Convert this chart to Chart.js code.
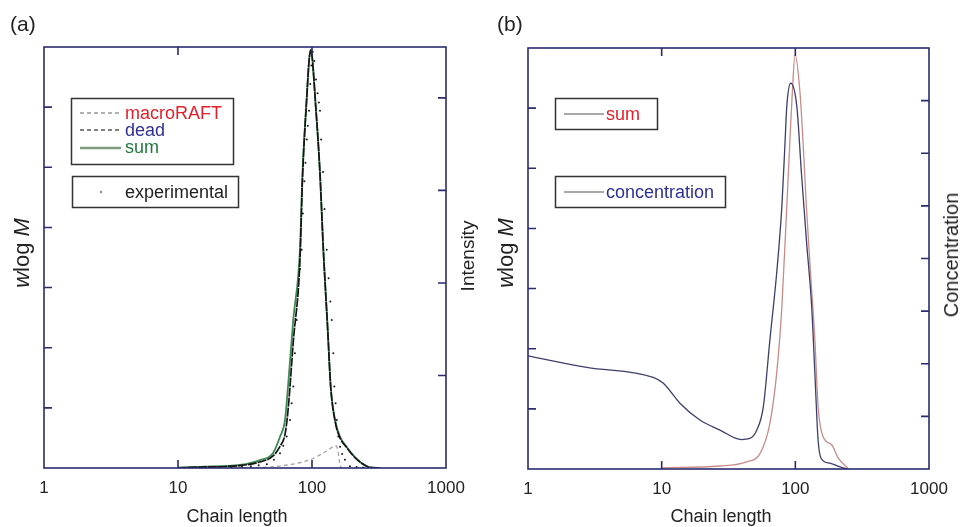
<!DOCTYPE html>
<html>
<head>
<meta charset="utf-8">
<script src="https://cdn.jsdelivr.net/npm/chart.js@4.4.1/dist/chart.umd.min.js"></script>
<style>
  body { margin: 0; background: #fff; }
  #wrap { position: relative; width: 961px; height: 527px; overflow: hidden;
          font-family: "Liberation Sans", Arial, sans-serif; color: #222; }
  canvas { position: absolute; top: 0; }
  #chartA { left: 0; }
  #chartB { left: 480px; }
  .lbl { position: absolute; white-space: nowrap; line-height: 1; }
  .rot { transform: translate(-50%, -50%) rotate(-90deg); }
  .ctr { transform: translate(-50%, -50%); }
  #legend { position: absolute; left: 0; top: 0; }
</style>
</head>
<body>
<div id="wrap">
  <canvas id="chartA" width="480" height="527"></canvas>
  <canvas id="chartB" width="481" height="527"></canvas>

  <div class="lbl" style="left:10px;top:13px;font-size:21px">(a)</div>
  <div class="lbl" style="left:497px;top:13px;font-size:21px">(b)</div>
  <div class="lbl rot" style="left:22px;top:253px;font-size:22px"><i>w</i>log <i>M</i></div>
  <div class="lbl rot" style="left:467px;top:256px;font-size:19px">Intensity</div>
  <div class="lbl rot" style="left:506px;top:253px;font-size:22px"><i>w</i>log <i>M</i></div>
  <div class="lbl rot" style="left:951px;top:255px;font-size:20px">Concentration</div>
  <div class="lbl ctr" style="left:237px;top:516px;font-size:18px">Chain length</div>
  <div class="lbl ctr" style="left:721px;top:516px;font-size:18px">Chain length</div>

  <svg id="legend" width="961" height="527" font-family="Liberation Sans, Arial, sans-serif" font-size="18">
    <!-- panel (a) -->
    <rect x="71.5" y="98.5" width="162" height="66" fill="#fff" stroke="#333" stroke-width="1.5"/>
    <line x1="80" y1="113" x2="121" y2="113" stroke="#b0b0b0" stroke-width="2" stroke-dasharray="4,3"/>
    <line x1="80" y1="130" x2="121" y2="130" stroke="#555" stroke-width="1.5" stroke-dasharray="4,3"/>
    <line x1="80" y1="148" x2="121" y2="148" stroke="#7f9c82" stroke-width="2.5"/>
    <text x="125" y="113" dominant-baseline="central" fill="#e3202a">macroRAFT</text>
    <text x="125" y="130" dominant-baseline="central" fill="#2e3192">dead</text>
    <text x="125" y="147" dominant-baseline="central" fill="#1f7a3a">sum</text>
    <rect x="72.5" y="176.5" width="166" height="31" fill="#fff" stroke="#333" stroke-width="1.5"/>
    <circle cx="101" cy="192" r="1.2" fill="#888"/>
    <text x="125" y="192" dominant-baseline="central" fill="#222">experimental</text>
    <!-- panel (b) -->
    <rect x="555.5" y="98.5" width="102" height="31" fill="#fff" stroke="#333" stroke-width="1.5"/>
    <line x1="564" y1="114" x2="604" y2="114" stroke="#a8a8a8" stroke-width="2"/>
    <text x="606" y="114" dominant-baseline="central" fill="#e3202a">sum</text>
    <rect x="555.5" y="176.5" width="170" height="31" fill="#fff" stroke="#333" stroke-width="1.5"/>
    <line x1="564" y1="192" x2="604" y2="192" stroke="#a8a8a8" stroke-width="2"/>
    <text x="606" y="192" dominant-baseline="central" fill="#2e3192">concentration</text>
  </svg>
</div>

<script>
// ***************************************************
// Data
// ***************************************************

var xTickLabels = [1, 10, 100, 1000];

// (a) simulated wlogM curves, left axis
var aSumLength  = [10, 14.6, 29, 40.9, 51.2, 57.7, 62.9, 66.2, 72.5, 81.3, 84.9, 90.2, 97.8, 107.1, 114.7, 121.5, 131, 137.9, 148.6, 161.9, 181.5, 209.4, 234.9, 262, 321];
var aSumValue   = [0.005, 0.02, 0.05, 0.13, 0.25, 0.52, 0.8, 1.35, 2.47, 3.63, 4.9, 5.95, 6.95, 5.95, 4.9, 3.63, 2.3, 1.35, 0.8, 0.52, 0.35, 0.18, 0.08, 0.02, 0];
var aDeadLength = [10, 14.6, 29, 40.9, 51.2, 57.7, 62.9, 66.2, 72.5, 81.3, 84.9, 90.2, 97.8, 107.1, 114.7, 121.5, 131, 137.9, 148.6, 161.9, 181.5, 209.4, 234.9, 262, 321];
var aDeadValue  = [0.004, 0.015, 0.04, 0.1, 0.2, 0.36, 0.56, 0.95, 2.1, 3.45, 4.8, 5.95, 6.95, 5.95, 4.9, 3.63, 2.3, 1.35, 0.78, 0.5, 0.34, 0.17, 0.08, 0.02, 0];
var aRaftLength = [30, 50, 70, 85, 100, 115, 130, 150, 156, 160, 165];
var aRaftValue  = [0, 0.02, 0.06, 0.1, 0.15, 0.22, 0.29, 0.37, 0.3, 0.12, 0];

// (a) experimental points, right axis (intensity)
var aExpLength = [20, 25, 30, 35, 40, 46, 52, 57.7, 61, 64.7, 68.5, 70.5, 72.5, 74.6, 76.9, 79, 81.5, 83.8, 85.5, 87.7, 89.4, 91.5, 93, 95, 97, 99, 101.2,
                  104, 107, 110, 112.5, 114.7, 117, 120.8, 124, 128.7, 133, 137, 140.4, 144.3, 146.7, 150, 152.8, 157.1, 161.9, 168, 176, 192, 215, 240];
var aExpIntensity = [0.01, 0.01, 0.015, 0.02, 0.03, 0.04, 0.09, 0.16, 0.24, 0.34, 0.52, 0.7, 0.88, 1.24, 1.6, 1.9, 2.15, 2.36, 2.75, 3.1, 3.3, 3.55, 3.7, 3.86, 4.15, 4.35, 4.5,
                     4.4, 4.2, 4.05, 3.95, 3.86, 3.55, 3.2, 2.8, 2.36, 2.05, 1.8, 1.6, 1.24, 0.88, 0.7, 0.52, 0.34, 0.23, 0.15, 0.09, 0.02, 0.01, 0.005];

// (b) sum (left axis) and concentration (right axis)
var bSumLength  = [10, 27.3, 43.2, 54.5, 64.5, 72.5, 79.3, 86.3, 91.1, 95.2, 99.5, 107.9, 114, 121, 130, 140, 148, 161, 187.4, 209.5, 248];
var bSumValue   = [0.02, 0.05, 0.12, 0.26, 0.76, 1.59, 2.7, 4.36, 5.47, 6.31, 6.89, 6.31, 5.47, 4.36, 3.25, 2.15, 1.04, 0.54, 0.4, 0.18, 0.01];
var bConcLength = [1, 2.75, 8.65, 10.3, 13.7, 19.3, 27.3, 39.6, 45.7, 51.5, 57.6, 64.5, 72.5, 79.3, 83.9, 86.3, 92.3, 102.6, 111.1, 121, 132.5, 140, 148, 156, 181, 228, 246];
var bConcValue  = [2.15, 1.93, 1.74, 1.63, 1.25, 0.93, 0.74, 0.56, 0.58, 0.74, 1.18, 2.45, 3.72, 4.99, 6.25, 6.89, 7.33, 6.89, 5.62, 4.35, 3.09, 1.82, 0.55, 0.2, 0.11, 0.02, 0];

// axis ranges / tick marks (no labels on the y axes)
var aLeftTicks  = [1, 2, 3, 4, 5, 6];
var aRightTicks = [1, 2, 3, 4];
var bLeftTicks  = [1, 2, 3, 4, 5, 6];
var bRightTicks = [1, 2, 3, 4, 5, 6, 7];

(function() {

  var FONT = '"Liberation Sans", Arial, sans-serif';
  var FRAME = '#2a2c6e';

  // ***************************************************
  // Helpers
  // ***************************************************

  function pts(xs, ys) {
    return xs.map(function(x, i) { return { x: x, y: ys[i] }; });
  }

  // lower "order" is drawn on top
  function line(data, color, width, dash, axis, order) {
    return {
      data: data, yAxisID: axis, borderColor: color, borderWidth: width,
      borderDash: dash || [], pointRadius: 0, fill: false, order: order,
      cubicInterpolationMode: 'monotone'
    };
  }

  // box round the plot plus inward ticks, like the original figure
  function frame(t) {
    return {
      id: 'frame',
      afterDatasetsDraw: function(chart) {
        var a = chart.chartArea, ctx = chart.ctx, len = 8;
        var sx = chart.scales.x, yl = chart.scales.y, yr = chart.scales.y2;
        ctx.save();
        ctx.strokeStyle = FRAME;
        ctx.lineWidth = 1.6;
        ctx.strokeRect(a.left, a.top, a.right - a.left, a.bottom - a.top);
        ctx.beginPath();
        [10, 100].forEach(function(v) {
          var px = sx.getPixelForValue(v);
          ctx.moveTo(px, a.bottom); ctx.lineTo(px, a.bottom - len);
          ctx.moveTo(px, a.top); ctx.lineTo(px, a.top + len);
        });
        t.left.forEach(function(v) {
          var py = yl.getPixelForValue(v);
          ctx.moveTo(a.left, py); ctx.lineTo(a.left + len, py);
        });
        t.right.forEach(function(v) {
          var py = yr.getPixelForValue(v);
          ctx.moveTo(a.right, py); ctx.lineTo(a.right - len, py);
        });
        ctx.stroke();
        ctx.restore();
      }
    };
  }

  function yScale(pos, max, width) {
    return {
      type: 'linear', position: pos, min: 0, max: max,
      ticks: { display: false },
      grid: { display: false, drawTicks: false },
      border: { display: false },
      afterFit: function(s) { s.width = width; }
    };
  }

  function xScale(height) {
    return {
      type: 'logarithmic', min: 1, max: 1000,
      afterBuildTicks: function(s) {
        s.ticks = xTickLabels.map(function(v) { return { value: v }; });
      },
      ticks: {
        autoSkip: false, maxRotation: 0, padding: 10, color: '#222',
        font: { family: FONT, size: 17 },
        callback: function(v) { return String(v); }
      },
      grid: { display: false, drawTicks: false },
      border: { display: false },
      afterFit: function(s) { s.height = height; }
    };
  }

  function build(id, datasets, o) {
    return new Chart(document.getElementById(id), {
      type: 'line',
      data: { datasets: datasets },
      options: {
        responsive: false, animation: false, devicePixelRatio: 1,
        layout: { padding: { top: o.top, left: 0, right: 0, bottom: 0 } },
        plugins: { legend: { display: false }, tooltip: { enabled: false } },
        scales: {
          x: xScale(o.bottomH),
          y: yScale('left', o.leftMax, o.leftW),
          y2: yScale('right', o.rightMax, o.rightW)
        }
      },
      plugins: [frame({ left: o.leftTicks, right: o.rightTicks })]
    });
  }

  // ***************************************************
  // Panel (a)
  // ***************************************************

  var expSet = {
    data: pts(aExpLength, aExpIntensity), yAxisID: 'y2', showLine: false, order: 0,
    pointRadius: 1, pointBorderWidth: 0, pointBackgroundColor: '#1a1a1a'
  };

  build('chartA', [
    line(pts(aRaftLength, aRaftValue), '#a3a3a3', 1.3, [4, 3], 'y', 3),
    line(pts(aSumLength, aSumValue), '#3c8a50', 1.8, null, 'y', 2),
    line(pts(aDeadLength, aDeadValue), '#151515', 1.7, [9, 1], 'y', 1),
    expSet
  ], {
    top: 47, bottomH: 59, leftW: 44, rightW: 34,
    leftMax: 7, rightMax: 4.55, leftTicks: aLeftTicks, rightTicks: aRightTicks
  });

  // ***************************************************
  // Panel (b)
  // ***************************************************

  build('chartB', [
    line(pts(bConcLength, bConcValue), '#3c3f6c', 1.3, null, 'y2', 1),
    line(pts(bSumLength, bSumValue), '#c98c88', 1.3, null, 'y', 2)
  ], {
    top: 48, bottomH: 58, leftW: 48, rightW: 32,
    leftMax: 7, rightMax: 8, leftTicks: bLeftTicks, rightTicks: bRightTicks
  });

})();
</script>
</body>
</html>
